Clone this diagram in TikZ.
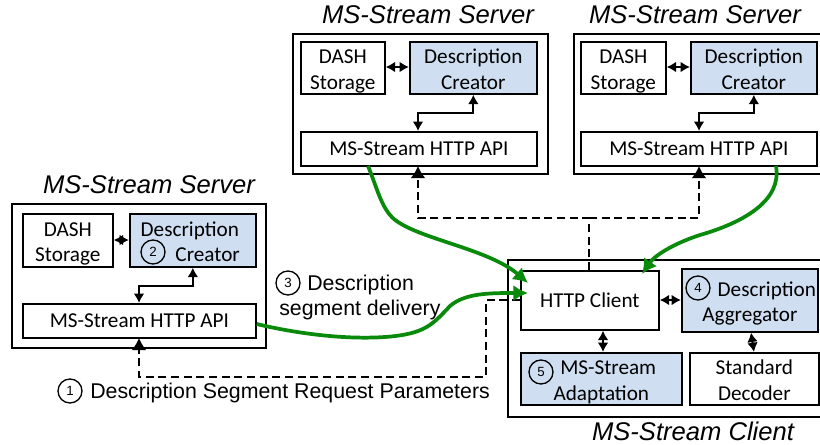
\documentclass[tikz,border=0pt]{standalone}
\usepackage{fontspec}
\setmainfont{Carlito}
\newfontfamily\lab{Liberation Sans}
\usetikzlibrary{arrows.meta,calc}
\definecolor{bluefill}{HTML}{CFDFF1}
\definecolor{greenline}{HTML}{0A8A0A}
\tikzset{
  x=0.75pt,y=-0.75pt,
  outerbox/.style={draw=black,line width=1.6pt,fill=white,inner sep=0pt},
  plainbox/.style={draw=black,line width=1.5pt,fill=white,align=center,inner sep=0pt,font=\fontsize{15.9pt}{19pt}\selectfont},
  bluebox/.style={plainbox,fill=bluefill},
  title/.style={font=\lab\itshape\fontsize{19.2pt}{21pt}\selectfont,inner sep=0pt},
  caption/.style={font=\lab\fontsize{16pt}{18pt}\selectfont,inner sep=0pt,anchor=west},
  numcircle/.style={circle,draw=black,line width=1pt,minimum size=18pt,inner sep=0pt,fill=none,font=\lab\fontsize{10pt}{10pt}\selectfont},
  link/.style={line width=1.5pt,{Latex[length=7pt,width=8pt]}-{Latex[length=7pt,width=8pt]}},
  req/.style={line width=1.3pt,dash pattern=on 6pt off 3.5pt,-{Latex[length=9pt,width=11pt]}},
  deliver/.style={line width=2.8pt,greenline,-{Latex[length=11pt,width=12pt]}},
}
\newcommand{\boxat}[6]{\node[#1,minimum width=#4*0.75pt-1pt,minimum height=#5*0.75pt-1pt,anchor=north west] (#2) at #3 {#6};}
\newcommand{\twolines}[2]{\raisebox{-7pt}[0pt][0pt]{\begin{tabular}{@{}c@{}}#1\strut\\#2\strut\end{tabular}}}
\begin{document}
\begin{tikzpicture}
\useasboundingbox (0,0) rectangle (820,444);
% outer boxes
\boxat{outerbox}{srvL}{(11,203)}{255}{145}{}
\boxat{outerbox}{srvA}{(292,33)}{256}{141}{}
\boxat{outerbox}{srvB}{(573,33)}{260}{141}{}
\boxat{outerbox}{cli}{(507,259)}{326}{158}{}
% titles
\node[title] (tL) at (149,185) {MS-Stream Server};
\node[title] (tA) at (428,15) {MS-Stream Server};
\node[title] (tB) at (695,15) {MS-Stream Server};
\node[title] (tC) at (693,431) {MS-Stream Client};
% left server
\boxat{plainbox}{dashL}{(22,213)}{91}{54}{\twolines{DASH}{Storage}}
\boxat{bluebox}{creL}{(129,213)}{127}{54}{\twolines{Description\hspace*{4.5pt}}{\hspace*{1.4em}Creator}}
\boxat{plainbox}{apiL}{(22,303)}{234}{35}{MS-Stream HTTP API}
% server A
\boxat{plainbox}{dashA}{(300,41)}{85}{53}{\twolines{DASH}{Storage}}
\boxat{bluebox}{creA}{(409,41)}{128}{53}{\twolines{Description}{Creator}}
\boxat{plainbox}{apiA}{(300,131)}{237}{35}{MS-Stream HTTP API}
% server B
\boxat{plainbox}{dashB}{(580,41)}{86}{53}{\twolines{DASH}{Storage}}
\boxat{bluebox}{creB}{(690,41)}{127}{53}{\twolines{Description}{Creator}}
\boxat{plainbox}{apiB}{(580,131)}{237}{35}{MS-Stream HTTP API}
% client
\boxat{plainbox}{http}{(520,270)}{139}{60}{HTTP Client}
\boxat{bluebox}{agg}{(681,268)}{137}{64}{\twolines{\hspace*{1.6em}Description}{Aggregator}}
\boxat{bluebox}{adapt}{(520,352)}{162}{53}{\twolines{\hspace*{0.65em}MS-Stream}{Adaptation}}
\boxat{plainbox}{dec}{(689,352)}{130}{53}{\twolines{Standard}{Decoder}}
% circled numbers
\node[numcircle] (n1) at (70,391) {1};
\node[numcircle] (n2) at (153,252) {2};
\node[numcircle] (n3) at (288,283) {3};
\node[numcircle] (n4) at (698,288) {4};
\node[numcircle] (n5) at (541,372) {5};
% labels
\node[caption] (l1) at (90,392.5) {Description Segment Request Parameters};
\node[caption] (l3a) at (307,284.5) {Description};
\node[caption] (l3b) at (279,309.5) {segment delivery};
% internal links
\draw[link] (dashL.east |- 0,240) -- (creL.west |- 0,240);
\draw[link] (creL.south) -- ++(0,18) -| (apiL.north -| 139,0);
\draw[link] (dashA.east |- 0,67) -- (creA.west |- 0,67);
\draw[link] (creA.south) -- ++(0,18.5) -| (apiA.north -| 418,0);
\draw[link] (dashB.east |- 0,67) -- (creB.west |- 0,67);
\draw[link] (creB.south) -- ++(0,18.5) -| (apiB.north -| 699,0);
\draw[link] (http.east |- 0,300) -- (agg.west |- 0,300);
\draw[link] (http.south -| 603,0) -- (adapt.north -| 603,0);
\draw[link] (agg.south -| 751,0) -- (dec.north -| 754,0);
% requests
\coordinate (reqL) at (139,338);
\coordinate (reqA) at (418,166);
\coordinate (reqB) at (699,166);
\coordinate (junc) at (589,218);
\draw[req] (http.west |- 0,300) -- (486,300) -- (486,377) -- (139,377) -- (reqL);
\draw[req] (http.north -| junc) -- (junc) -- (418,218) -- (reqA);
\draw[req] (junc) -- (699,218) -- (reqB);
% deliveries
\coordinate (tipL) at (528,293);
\coordinate (tipA) at (528,283);
\coordinate (tipB) at (642,274);
\draw[deliver] (apiL.east |- 0,324) .. controls (290,332) and (340,340) .. (385,337) .. controls (425,334) and (432,325) .. (450,306) .. controls (465,293) and (490,293) .. (tipL);
\draw[deliver] (368,166) .. controls (378,190) and (382,212) .. (398,222) .. controls (425,240) and (490,250) .. (tipA);
\draw[deliver] (776,166) .. controls (782,200) and (745,222) .. (700,235) .. controls (675,243) and (655,255) .. (tipB);
\end{tikzpicture}
\end{document}
